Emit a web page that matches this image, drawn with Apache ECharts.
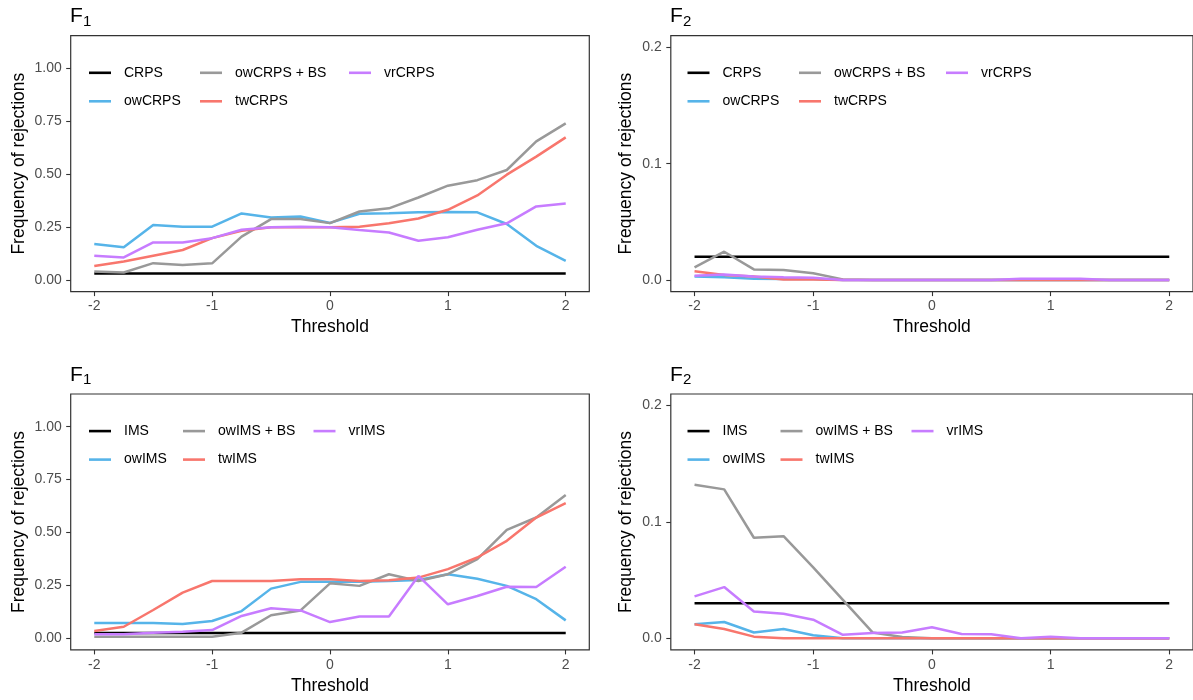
<!DOCTYPE html>
<html>
<head>
<meta charset="utf-8">
<script src="https://cdn.jsdelivr.net/npm/echarts@6/dist/echarts.min.js"></script>
<style>
html,body{margin:0;padding:0;background:#fff;}
#chart{width:1193px;height:700px;}
</style>
</head>
<body>
<div id="chart"></div>
<script>
// ---------------- data ----------------
const thresholds = [-2, -1.75, -1.5, -1.25, -1, -0.75, -0.5, -0.25, 0, 0.25, 0.5, 0.75, 1, 1.25, 1.5, 1.75, 2];

const xTicks = [-2, -1, 0, 1, 2];
const yTicksF1 = [0, 0.25, 0.5, 0.75, 1];
const yTicksF2 = [0, 0.1, 0.2];

const namesCRPS = ['CRPS', 'owCRPS', 'owCRPS + BS', 'twCRPS', 'vrCRPS'];
const namesIMS = ['IMS', 'owIMS', 'owIMS + BS', 'twIMS', 'vrIMS'];

// Panel 1: F1, CRPS family
const p1_CRPS     = [0.031, 0.031, 0.031, 0.031, 0.031, 0.031, 0.031, 0.031, 0.031, 0.031, 0.031, 0.031, 0.031, 0.031, 0.031, 0.031, 0.031];
const p1_owCRPS   = [0.170, 0.155, 0.260, 0.252, 0.252, 0.315, 0.296, 0.300, 0.270, 0.313, 0.316, 0.320, 0.322, 0.320, 0.265, 0.162, 0.091];
const p1_owCRPSBS = [0.041, 0.036, 0.080, 0.071, 0.079, 0.205, 0.288, 0.288, 0.269, 0.324, 0.339, 0.390, 0.446, 0.472, 0.520, 0.655, 0.740];
const p1_twCRPS   = [0.066, 0.088, 0.115, 0.142, 0.198, 0.233, 0.249, 0.249, 0.249, 0.252, 0.268, 0.291, 0.332, 0.400, 0.498, 0.583, 0.674];
const p1_vrCRPS   = [0.115, 0.107, 0.178, 0.178, 0.198, 0.238, 0.249, 0.252, 0.249, 0.236, 0.225, 0.186, 0.202, 0.238, 0.268, 0.348, 0.362];

// Panel 2: F2, CRPS family
const p2_CRPS     = [0.020, 0.020, 0.020, 0.020, 0.020, 0.020, 0.020, 0.020, 0.020, 0.020, 0.020, 0.020, 0.020, 0.020, 0.020, 0.020, 0.020];
const p2_owCRPS   = [0.0030, 0.0023, 0.0011, 0.0009, 0.0009, 0, 0, 0, 0, 0, 0, 0, 0, 0, 0, 0, 0];
const p2_owCRPSBS = [0.0109, 0.0243, 0.0091, 0.0086, 0.0057, 0.0005, 0, 0, 0, 0, 0, 0, 0, 0, 0, 0, 0];
const p2_twCRPS   = [0.0074, 0.0043, 0.0030, 0.0005, 0.0005, 0, 0, 0, 0, 0, 0, 0, 0, 0, 0, 0, 0];
const p2_vrCRPS   = [0.0037, 0.0046, 0.0030, 0.0023, 0.0020, 0, 0, 0, 0, 0, 0, 0.0010, 0.0010, 0.0010, 0, 0, 0];

// Panel 3: F1, IMS family
const p3_IMS      = [0.025, 0.025, 0.025, 0.025, 0.025, 0.025, 0.025, 0.025, 0.025, 0.025, 0.025, 0.025, 0.025, 0.025, 0.025, 0.025, 0.025];
const p3_owIMS    = [0.073, 0.073, 0.073, 0.068, 0.082, 0.129, 0.235, 0.267, 0.267, 0.267, 0.271, 0.276, 0.303, 0.282, 0.248, 0.185, 0.085];
const p3_owIMSBS  = [0.008, 0.008, 0.008, 0.008, 0.008, 0.027, 0.109, 0.132, 0.260, 0.248, 0.303, 0.271, 0.303, 0.374, 0.513, 0.571, 0.677];
const p3_twIMS    = [0.035, 0.055, 0.134, 0.216, 0.271, 0.271, 0.271, 0.279, 0.279, 0.271, 0.274, 0.287, 0.327, 0.382, 0.461, 0.571, 0.639];
const p3_vrIMS    = [0.019, 0.019, 0.027, 0.031, 0.039, 0.106, 0.142, 0.132, 0.077, 0.103, 0.103, 0.295, 0.161, 0.200, 0.244, 0.243, 0.338];

// Panel 4: F2, IMS family
const p4_IMS      = [0.030, 0.030, 0.030, 0.030, 0.030, 0.030, 0.030, 0.030, 0.030, 0.030, 0.030, 0.030, 0.030, 0.030, 0.030, 0.030, 0.030];
const p4_owIMS    = [0.0120, 0.0140, 0.0050, 0.0080, 0.0026, 0, 0, 0, 0, 0, 0, 0, 0, 0, 0, 0, 0];
const p4_owIMSBS  = [0.132, 0.128, 0.0864, 0.0878, 0.061, 0.033, 0.005, 0.001, 0, 0, 0, 0, 0, 0, 0, 0, 0];
const p4_twIMS    = [0.0120, 0.0080, 0.0014, 0, 0, 0, 0, 0, 0, 0, 0, 0, 0, 0, 0, 0, 0];
const p4_vrIMS    = [0.036, 0.044, 0.023, 0.021, 0.016, 0.003, 0.0046, 0.005, 0.0094, 0.0037, 0.0034, 0, 0.0014, 0, 0, 0, 0];

// ---------------- styling / layout ----------------
const FONT = "'Liberation Sans', Arial, sans-serif";
const colors = ['#000000', '#56B4E9', '#999999', '#F8766D', '#C77CFF'];
const DY = 358.3; // vertical offset of bottom row

const grids = [
  {left: 70.7, top: 35.7, width: 518.6, height: 255.9},
  {left: 670.8, top: 35.7, width: 526.6, height: 255.9},
  {left: 70.7, top: 35.7 + DY, width: 518.6, height: 255.9},
  {left: 670.8, top: 35.7 + DY, width: 526.6, height: 255.9}
];

const panels = [
  {names: namesCRPS, data: [p1_CRPS, p1_owCRPS, p1_owCRPSBS, p1_twCRPS, p1_vrCRPS], yTicks: yTicksF1, ymin: -0.0545, ymax: 1.1545, dec: 2, nameGap: 43, title: '1',
   legX: [89, 89, 200, 200, 349], legRow: [0, 1, 0, 1, 0]},
  {names: namesCRPS, data: [p2_CRPS, p2_owCRPS, p2_owCRPSBS, p2_twCRPS, p2_vrCRPS], yTicks: yTicksF2, ymin: -0.01, ymax: 0.21, dec: 1, nameGap: 36, title: '2',
   legX: [687.5, 687.5, 799, 799, 946], legRow: [0, 1, 0, 1, 0]},
  {names: namesIMS, data: [p3_IMS, p3_owIMS, p3_owIMSBS, p3_twIMS, p3_vrIMS], yTicks: yTicksF1, ymin: -0.0545, ymax: 1.1545, dec: 2, nameGap: 43, title: '1',
   legX: [89, 89, 183, 183, 313.5], legRow: [0, 1, 0, 1, 0]},
  {names: namesIMS, data: [p4_IMS, p4_owIMS, p4_owIMSBS, p4_twIMS, p4_vrIMS], yTicks: yTicksF2, ymin: -0.01, ymax: 0.21, dec: 1, nameGap: 36, title: '2',
   legX: [687.5, 687.5, 780.5, 780.5, 911.5], legRow: [0, 1, 0, 1, 0]}
];

const rowCenters = [72.8, 101.3];

const option = {
  animation: false,
  backgroundColor: '#ffffff',
  textStyle: {fontFamily: FONT},
  grid: [],
  xAxis: [],
  yAxis: [],
  series: [],
  legend: [],
  title: []
};

panels.forEach((p, gi) => {
  const g = grids[gi];
  option.grid.push(Object.assign({show: true, borderColor: '#333333', borderWidth: 1.2, backgroundColor: 'transparent'}, g));
  option.xAxis.push({
    type: 'value', gridIndex: gi, min: -2.2, max: 2.2, position: 'bottom',
    axisLine: {show: false, onZero: false},
    axisTick: {show: true, customValues: xTicks, length: 4.5, lineStyle: {color: '#333333', width: 1.1}},
    axisLabel: {customValues: xTicks, fontSize: 14, color: '#4D4D4D', margin: 8, fontFamily: FONT, lineHeight: 14},
    splitLine: {show: false},
    name: 'Threshold', nameLocation: 'middle', nameGap: 27,
    nameTextStyle: {fontSize: 17.5, color: '#000000', fontFamily: FONT, lineHeight: 18}
  });
  option.yAxis.push({
    type: 'value', gridIndex: gi, min: p.ymin, max: p.ymax, position: 'left',
    axisLine: {show: false, onZero: false},
    axisTick: {show: true, customValues: p.yTicks, length: 4.5, lineStyle: {color: '#333333', width: 1.1}},
    axisLabel: {customValues: p.yTicks, fontSize: 14, color: '#4D4D4D', margin: 9, fontFamily: FONT,
      formatter: v => Number(v).toFixed(p.dec)},
    splitLine: {show: false},
    name: 'Frequency of rejections', nameLocation: 'middle', nameGap: p.nameGap,
    nameTextStyle: {fontSize: 17.5, color: '#000000', fontFamily: FONT, lineHeight: 18}
  });
  p.names.forEach((nm, si) => {
    option.series.push({
      type: 'line', name: nm, xAxisIndex: gi, yAxisIndex: gi,
      symbol: 'none', showSymbol: false, silent: true,
      lineStyle: {width: 2.5, color: colors[si]},
      itemStyle: {color: colors[si]},
      data: thresholds.map((t, i) => [t, p.data[si][i]])
    });
    const rowOff = gi >= 2 ? DY : 0;
    option.legend.push({
      data: [nm], left: p.legX[si], top: rowCenters[p.legRow[si]] + rowOff - 8,
      padding: 0, icon: 'rect', itemWidth: 22, itemHeight: 2.6,
      selectedMode: false,
      textStyle: {fontSize: 14, color: '#000000', fontFamily: FONT, lineHeight: 16, padding: [0, 0, 0, 8]}
    });
  });
  const tx = g.left - 0.7;
  const ty = gi >= 2 ? DY : 0;
  option.title.push({
    text: 'F', left: tx, top: 6 + ty, padding: 0,
    textStyle: {fontSize: 21, fontWeight: 'normal', color: '#000000', fontFamily: FONT, lineHeight: 21}
  });
  option.title.push({
    text: p.title, left: tx + 13, top: 14 + ty, padding: 0,
    textStyle: {fontSize: 15, fontWeight: 'normal', color: '#000000', fontFamily: FONT, lineHeight: 15}
  });
});

const chart = echarts.init(document.getElementById('chart'), null, {renderer: 'canvas'});
chart.setOption(option);
</script>
</body>
</html>
